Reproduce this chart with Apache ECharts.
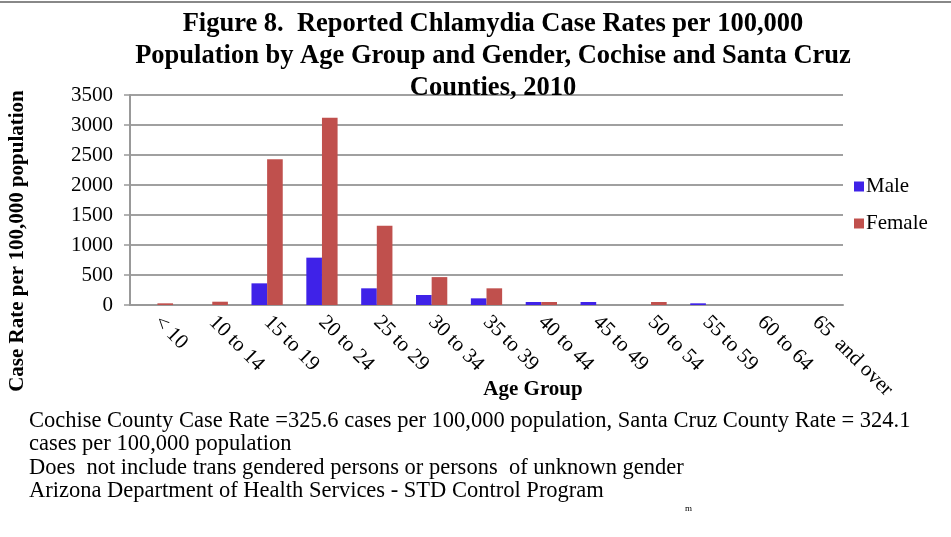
<!DOCTYPE html>
<html>
<head>
<meta charset="utf-8">
<script src="https://cdn.jsdelivr.net/npm/echarts@6/dist/echarts.min.js"></script>
<style>
html,body{margin:0;padding:0;background:#fff;}
#chart{width:951px;height:537px;}
</style>
</head>
<body>
<div id="chart"></div>
<script>
var categories = ['< 10','10 to 14','15 to 19','20 to 24','25 to 29','30 to 34','35 to 39','40 to 44','45 to 49','50 to 54','55 to 59','60 to 64','65  and over'];
var maleValues = [0, 0, 361, 789, 278, 167, 111, 50, 50, 0, 28, 0, 0];
var femaleValues = [28, 55, 2430, 3120, 1322, 465, 278, 50, 0, 50, 0, 0, 0];
var yTicks = [0, 500, 1000, 1500, 2000, 2500, 3000, 3500];

var FONT = '"Liberation Serif","Times New Roman",serif';
var chart = echarts.init(document.getElementById('chart'));
chart.setOption({
  backgroundColor: '#fff',
  animation: false,
  title: {
    text: 'Figure 8.  Reported Chlamydia Case Rates per 100,000\nPopulation by Age Group and Gender, Cochise and Santa Cruz\nCounties, 2010',
    left: 488, top: 3, textAlign: 'center',
    textStyle: {fontFamily: FONT, fontWeight: 'bold', fontSize: 26.5, lineHeight: 32, color: '#000'}
  },
  legend: {
    orient: 'vertical', left: 849, top: 171,
    itemWidth: 10, itemHeight: 10, itemGap: 16,
    icon: 'rect',
    textStyle: {fontFamily: FONT, fontSize: 21, color: '#000', padding: [0,0,0,-3]},
    data: ['Male','Female']
  },
  grid: {left: 130, right: 108, top: 95, bottom: 232},
  xAxis: {
    type: 'category', data: categories,
    axisLine: {lineStyle: {color: '#999', width: 2}},
    axisTick: {show: false},
    axisLabel: {rotate: -45, margin: 14, interval: 0, fontFamily: FONT, fontSize: 21, color: '#000'}
  },
  yAxis: {
    type: 'value', min: yTicks[0], max: yTicks[yTicks.length-1], interval: 500,
    axisLine: {show: true, lineStyle: {color: '#999', width: 2}},
    axisTick: {show: true, length: 6, lineStyle: {color: '#999', width: 1.5}},
    splitLine: {lineStyle: {color: '#a0a0a0', width: 2}},
    axisLabel: {margin: 17, fontFamily: FONT, fontSize: 21, color: '#000',
      formatter: function (v) { return String(v); }}
  },
  series: [
    {name: 'Male', type: 'bar', data: maleValues, barGap: '0%', barCategoryGap: '43%',
     itemStyle: {color: '#3F22E8'}},
    {name: 'Female', type: 'bar', data: femaleValues, barGap: '0%', barCategoryGap: '43%',
     itemStyle: {color: '#C0504D'}}
  ],
  graphic: [
    {type: 'line', shape: {x1: 0, y1: 2, x2: 951, y2: 2}, style: {stroke: '#888', lineWidth: 2}},
    {type: 'text', x: 533, y: 390, style: {text: 'Age Group', font: 'bold 21px ' + FONT, fill: '#000', textAlign: 'center', textVerticalAlign: 'middle'}},
    {type: 'text', x: 18, y: 241, rotation: Math.PI/2,
     style: {text: 'Case Rate per 100,000 population', font: 'bold 21px ' + FONT, fill: '#000', textAlign: 'center', textVerticalAlign: 'middle'}},
    {type: 'text', left: 29, top: 409, style: {
      text: 'Cochise County Case Rate =325.6 cases per 100,000 population, Santa Cruz County Rate = 324.1\ncases per 100,000 population\nDoes  not include trans gendered persons or persons  of unknown gender\nArizona Department of Health Services - STD Control Program',
      font: '22.5px ' + FONT, lineHeight: 23.5, fill: '#000'}},
    {type: 'text', left: 685, top: 504, style: {text: 'm', font: '9px ' + FONT, fill: '#000'}}
  ]
});
</script>
</body>
</html>
